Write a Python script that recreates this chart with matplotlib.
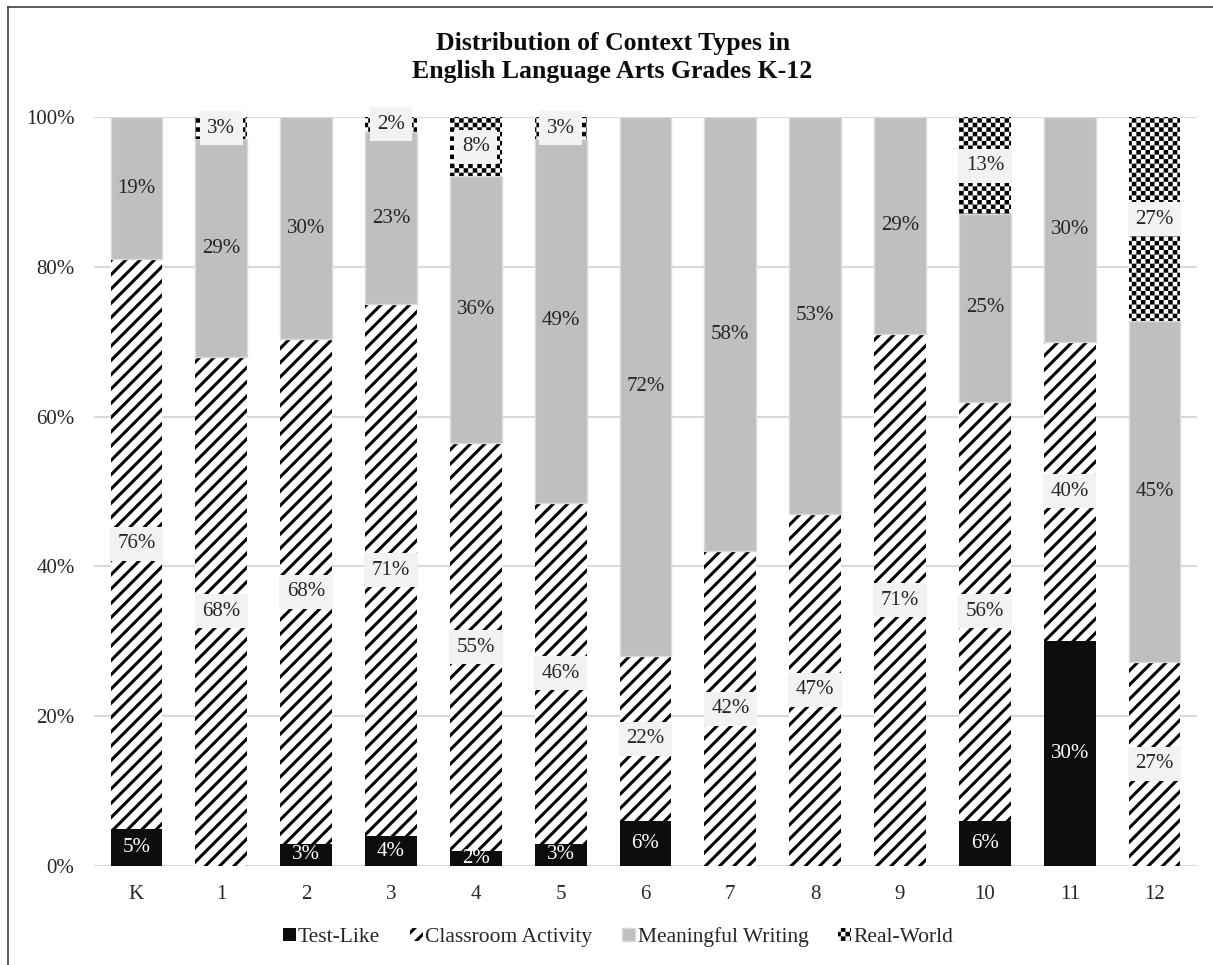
import warnings
import numpy as np
import matplotlib
matplotlib.use("Agg")
import matplotlib.pyplot as plt
import matplotlib.hatch as mhatch
from matplotlib.path import Path
from matplotlib.lines import Line2D

warnings.filterwarnings("ignore", category=matplotlib.MatplotlibDeprecationWarning)

# Share of each context type per grade (percent, as labelled)
grades = ['K', '1', '2', '3', '4', '5', '6', '7', '8', '9', '10', '11', '12']
test_like = [5, 0, 3, 4, 2, 3, 6, 0, 0, 0, 6, 30, 0]
classroom = [76, 68, 68, 71, 55, 46, 22, 42, 47, 71, 56, 40, 27]
meaningful = [19, 29, 30, 23, 36, 49, 72, 58, 53, 29, 25, 30, 45]
real_world = [0, 3, 0, 2, 8, 3, 0, 0, 0, 0, 13, 0, 27]
series_names = ['Test-Like', 'Classroom Activity', 'Meaningful Writing', 'Real-World']

HATCH_LW = 2.2
plt.rcParams['hatch.linewidth'] = HATCH_LW
plt.rcParams['font.family'] = ['Liberation Serif', 'DejaVu Serif']


class DiagonalHatch(mhatch.NorthEastHatch):
    """Tighter '/' stripes, picked with the 'd' hatch character."""

    def __init__(self, hatch, density):
        self.num_lines = 14 if 'd' in hatch else 0
        self.num_vertices = (self.num_lines + 1) * 2 if self.num_lines else 0


class CheckerHatch(mhatch.HatchPatternBase):
    """Checkerboard fill, picked with the 'c' hatch character."""
    cells = 22

    def __init__(self, hatch, density):
        self.num_cells = self.cells if 'c' in hatch else 0
        self.num_vertices = self.num_cells ** 2 // 2 * 5

    def set_vertices_and_codes(self, vertices, codes):
        step = 1.0 / self.num_cells
        inset = HATCH_LW / 144.0  # stroke grows each square by half a line width
        k = 0
        for i in range(self.num_cells):
            for j in range(self.num_cells):
                if (i + j) % 2:
                    continue
                x0, y0 = i * step + inset, j * step + inset
                x1, y1 = (i + 1) * step - inset, (j + 1) * step - inset
                vertices[k:k + 5] = [(x0, y0), (x1, y0), (x1, y1), (x0, y1), (x0, y0)]
                codes[k:k + 5] = [Path.MOVETO, Path.LINETO, Path.LINETO,
                                  Path.LINETO, Path.CLOSEPOLY]
                k += 5


mhatch._hatch_types.append(DiagonalHatch)
mhatch._hatch_types.append(CheckerHatch)

data = np.array([test_like, classroom, meaningful, real_world], dtype=float)
shares = data / data.sum(axis=0)

fig = plt.figure(figsize=(12.13, 9.65), dpi=100)
ax = fig.add_axes([0.0775, 0.1026, 0.9093, 0.7762])

x = np.arange(len(grades))
width = 0.61
styles = [
    dict(color='#0d0d0d', edgecolor='#0d0d0d', linewidth=0),
    dict(color='white', edgecolor='black', linewidth=0, hatch='d'),
    dict(color='#bfbfbf', edgecolor='#d9d9d9', linewidth=1),
    dict(color='white', edgecolor='black', linewidth=0, hatch='c'),
]

bottom = np.zeros(len(grades))
for k in range(4):
    ax.bar(x, shares[k], width, bottom=bottom, label=series_names[k],
           zorder=2, **styles[k])
    for i in range(len(grades)):
        if data[k, i] == 0:
            continue
        yc = bottom[i] + shares[k, i] / 2
        txt = '%d%%' % data[k, i]
        if k == 0:
            ax.text(x[i], yc, txt, ha='center', va='center', fontsize=15,
                    color='white', zorder=4)
        elif k == 2:
            ax.text(x[i], yc, txt, ha='center', va='center', fontsize=15,
                    color='#262626', zorder=4)
        else:
            ax.text(x[i], yc, txt, ha='center', va='center', fontsize=15,
                    color='#262626', zorder=4,
                    bbox=dict(boxstyle='square,pad=0.36', facecolor='#f2f2f2',
                              edgecolor='none'))
    bottom += shares[k]

ax.set_xlim(-0.5, len(grades) - 0.5)
ax.set_ylim(0, 1)
ax.set_yticks(np.linspace(0, 1, 6))
ax.set_yticklabels(['%d%%' % v for v in range(0, 101, 20)])
ax.set_xticks(x)
ax.set_xticklabels(grades)
ax.yaxis.grid(True, color='#d9d9d9', linewidth=1.5, zorder=0)
ax.set_axisbelow(True)
for side in ['top', 'right', 'left', 'bottom']:
    ax.spines[side].set_visible(False)
ax.tick_params(axis='both', length=0, labelsize=15, labelcolor='#262626')
ax.tick_params(axis='x', pad=14)
ax.tick_params(axis='y', pad=14)

fig.text(0.505, 1 - 32 / 965, 'Distribution of Context Types in\nEnglish Language Arts Grades K-12',
         ha='center', va='top', fontsize=18.5, fontweight='bold', color='#0d0d0d',
         linespacing=1.3)

fig.legend(loc='center', bbox_to_anchor=(618 / 1213, 1 - 937 / 965), ncol=4,
           frameon=False, fontsize=15.5, handlelength=0.6, handleheight=0.6,
           handletextpad=0.1, columnspacing=1.4, labelcolor='#262626')

# outer frame line on the left and top edges
fig.add_artist(Line2D([8 / 1213, 8 / 1213], [0, 1 - 7 / 965], color='#404040',
                      linewidth=1.2, transform=fig.transFigure))
fig.add_artist(Line2D([8 / 1213, 1], [1 - 7 / 965, 1 - 7 / 965], color='#404040',
                      linewidth=1.2, transform=fig.transFigure))

fig.savefig('out.png', dpi=100)
